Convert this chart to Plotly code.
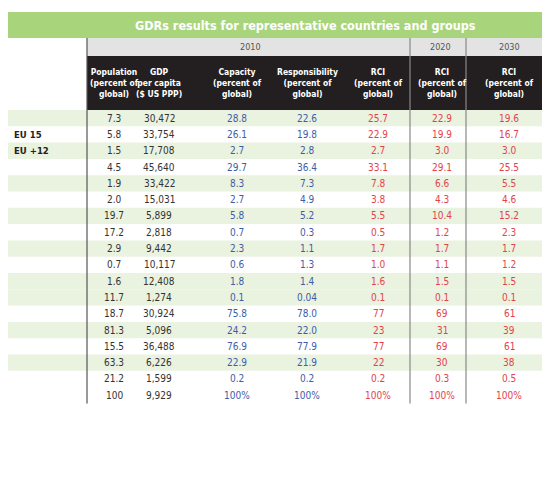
import plotly.graph_objects as go

# Table data
rows = ["EU 27", "EU 15", "EU +12", "United States", "Japan", "Russia", "China", "India",
        "Brazil", "South Africa", "Mexico", "LDCs", "Annex I", "Non-Annex I", "High-income",
        "Middle-income", "Low-income", "World"]
indent = [False, True, True] + [False] * 15
population = ["7.3", "5.8", "1.5", "4.5", "1.9", "2.0", "19.7", "17.2", "2.9", "0.7", "1.6",
              "11.7", "18.7", "81.3", "15.5", "63.3", "21.2", "100"]
gdp = ["30,472", "33,754", "17,708", "45,640", "33,422", "15,031", "5,899", "2,818", "9,442",
       "10,117", "12,408", "1,274", "30,924", "5,096", "36,488", "6,226", "1,599", "9,929"]
capacity = ["28.8", "26.1", "2.7", "29.7", "8.3", "2.7", "5.8", "0.7", "2.3", "0.6", "1.8",
            "0.1", "75.8", "24.2", "76.9", "22.9", "0.2", "100%"]
responsibility = ["22.6", "19.8", "2.8", "36.4", "7.3", "4.9", "5.2", "0.3", "1.1", "1.3", "1.4",
                  "0.04", "78.0", "22.0", "77.9", "21.9", "0.2", "100%"]
rci_2010 = ["25.7", "22.9", "2.7", "33.1", "7.8", "3.8", "5.5", "0.5", "1.7", "1.0", "1.6",
            "0.1", "77", "23", "77", "22", "0.2", "100%"]
rci_2020 = ["22.9", "19.9", "3.0", "29.1", "6.6", "4.3", "10.4", "1.2", "1.7", "1.1", "1.5",
            "0.1", "69", "31", "69", "30", "0.3", "100%"]
rci_2030 = ["19.6", "16.7", "3.0", "25.5", "5.5", "4.6", "15.2", "2.3", "1.7", "1.2", "1.5",
            "0.1", "61", "39", "61", "38", "0.5", "100%"]
shaded = [True, False, True, False, True, False, True, False, True, False, True,
          True, False, True, False, True, False, False]

headers = ["Population<br>(percent of<br>global)", "GDP<br>per capita<br>($ US PPP)",
           "Capacity<br>(percent of<br>global)", "Responsibility<br>(percent of<br>global)",
           "RCI<br>(percent of<br>global)", "RCI<br>(percent of<br>global)",
           "RCI<br>(percent of<br>global)"]
columns = [population, gdp, capacity, responsibility, rci_2010, rci_2020, rci_2030]
col_x = [114, 159, 237, 307, 378, 442, 509]
col_color = ["#333333", "#333333", "#3d5da8", "#3d5da8", "#e2434b", "#e2434b", "#e2434b"]

title = "GDRs results for representative countries and groups"
caption = ("Table ES1: Percentage shares of total global population, GDP, capacity, responsibility, and RCI for<br>"
           "selected countries and groups of countries. Based on projected emissions and income for 2010, 2020,<br>"
           "and 2030. (High-, Middle-, and Low-income Country categories are based on World Bank definitions as<br>"
           "of 2006. Projections based on International Energy Agency World Energy Outlook 2007.)")

FONT = "DejaVu Sans Condensed, Liberation Sans Narrow, Liberation Sans, sans-serif"
top, row_h = 110, 16.3

shapes, ann = [], []
shapes.append(dict(type="rect", x0=3, x1=550, y0=12, y1=38, fillcolor="#a8d57c", line_width=0))
shapes.append(dict(type="rect", x0=87, x1=550, y0=38, y1=56, fillcolor="#e3e3e3", line_width=0))
shapes.append(dict(type="rect", x0=87, x1=550, y0=56, y1=110, fillcolor="#231f20", line_width=0))
for i, s in enumerate(shaded):
    if s:
        shapes.append(dict(type="rect", x0=3, x1=550, y0=top + i * row_h, y1=top + (i + 1) * row_h,
                           fillcolor="#eaf2e0", line_width=0))
bottom = top + len(rows) * row_h
for x in [410, 466]:
    shapes.append(dict(type="line", x0=x, x1=x, y0=38, y1=bottom, line=dict(color="#888888", width=1.2)))
shapes.append(dict(type="line", x0=87, x1=87, y0=38, y1=bottom, line=dict(color="#555555", width=1.2)))

ann.append(dict(x=305, y=25, text="<b>" + title + "</b>", font=dict(family=FONT, size=12.5, color="white")))
for yr, x in [("2010", 250), ("2020", 440), ("2030", 509)]:
    ann.append(dict(x=x, y=47, text=yr, font=dict(family=FONT, size=9, color="#555555")))
for h, x in zip(headers, col_x):
    ann.append(dict(x=x, y=83, text="<b>" + h + "</b>", font=dict(family=FONT, size=8.5, color="white")))
for i, name in enumerate(rows):
    y = top + (i + 0.5) * row_h
    ann.append(dict(x=12 if indent[i] else 5, y=y, text="<b>" + name + "</b>", xanchor="left",
                    font=dict(family=FONT, size=9.5, color="#222222")))
    for col, x, c in zip(columns, col_x, col_color):
        ann.append(dict(x=x, y=y, text=col[i], font=dict(family=FONT, size=10, color=c)))
ann.append(dict(x=2, y=466, text="<b>" + caption + "</b>", xanchor="left", align="left",
                font=dict(family=FONT, size=10.3, color="#222222")))
for a in ann:
    a.update(xref="x", yref="y", showarrow=False)

# page body adds ~8px offset, so the figure covers page pixels 8..550
fig = go.Figure()
fig.update_layout(width=542, height=495, margin=dict(l=0, r=0, t=0, b=0),
                  plot_bgcolor="white", paper_bgcolor="white", shapes=shapes, annotations=ann,
                  xaxis=dict(range=[8, 550], visible=False, fixedrange=True),
                  yaxis=dict(range=[503, 8], visible=False, fixedrange=True))
fig.write_html("out.html")
